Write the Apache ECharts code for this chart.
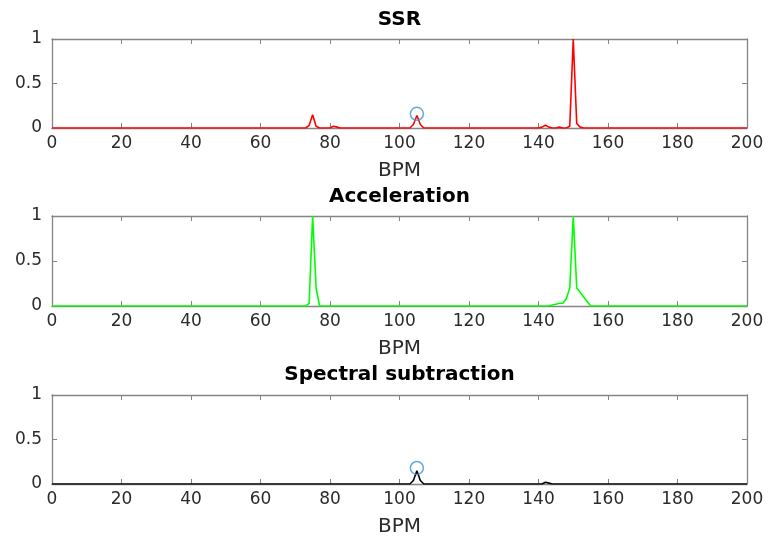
<!DOCTYPE html>
<html>
<head>
<meta charset="utf-8">
<script src="https://cdn.jsdelivr.net/npm/echarts@6/dist/echarts.min.js"></script>
<style>
  html, body { margin: 0; padding: 0; background: #fff; }
  #chart { width: 769px; height: 542px; }
</style>
</head>
<body>
<div id="chart"></div>
<script>
// BPM / value pairs, zero everywhere else
const ssrPoints = [
  [0, 0], [73, 0], [74, 0.03], [75, 0.15], [76, 0.02], [77, 0],
  [80, 0], [81, 0.02], [82, 0.01], [83, 0],
  [103, 0], [104, 0.04], [105, 0.14], [106, 0.04], [107, 0],
  [140, 0], [141, 0.01], [142, 0.03], [143, 0.01], [144, 0],
  [145, 0], [146, 0.01], [147, 0],
  [148, 0], [149, 0.02], [150, 1.0], [151, 0.05], [152, 0.01], [153, 0],
  [200, 0]
];
const accPoints = [
  [0, 0], [73, 0], [74, 0.03], [75, 1.0], [76, 0.2], [77, 0],
  [143, 0], [144, 0.01], [145, 0.02], [146, 0.03], [147, 0.03], [148, 0.08],
  [149, 0.2], [150, 1.0], [151, 0.2], [152, 0.15], [153, 0.1], [154, 0.05], [155, 0],
  [200, 0]
];
const specPoints = [
  [0, 0], [103, 0], [104, 0.04], [105, 0.15], [106, 0.04], [107, 0],
  [141, 0], [142, 0.02], [143, 0.01], [144, 0],
  [200, 0]
];
const ssrPick = [[105, 0.16]];
const specPick = [[105, 0.18]];
const titles = ['SSR', 'Acceleration', 'Spectral subtraction'];

const axisGray = '#858585';
const textColor = '#2b2b2b';
const font = 'DejaVu Sans';

const grids = [
  { left: 52, top: 39, width: 695, height: 89 },
  { left: 52, top: 216, width: 695, height: 90 },
  { left: 52, top: 395, width: 695, height: 89 }
];

const boxLine = { onZero: false, show: true, lineStyle: { color: axisGray, width: 1.3 } };
const boxTick = { show: true, inside: true, length: 5, lineStyle: { color: axisGray } };

const xAxes = [];
const yAxes = [];
grids.forEach(function (g, i) {
  xAxes.push({
    type: 'value', gridIndex: i, position: 'bottom', min: 0, max: 200, interval: 20,
    name: 'BPM', nameLocation: 'middle', nameGap: 33,
    nameTextStyle: { fontFamily: font, fontSize: 20, color: textColor },
    axisLine: boxLine, axisTick: boxTick,
    axisLabel: { fontFamily: font, fontSize: 17, color: textColor, margin: 7 },
    splitLine: { show: false }
  });
  xAxes.push({
    type: 'value', gridIndex: i, position: 'top', min: 0, max: 200, interval: 20,
    axisLine: boxLine, axisTick: boxTick,
    axisLabel: { show: false },
    splitLine: { show: false }
  });
  yAxes.push({
    type: 'value', gridIndex: i, position: 'left', min: 0, max: 1, interval: 0.5,
    axisLine: boxLine, axisTick: boxTick,
    axisLabel: { fontFamily: font, fontSize: 17, color: textColor, margin: 10 },
    splitLine: { show: false }
  });
  yAxes.push({
    type: 'value', gridIndex: i, position: 'right', min: 0, max: 1, interval: 0.5,
    axisLine: boxLine, axisTick: boxTick,
    axisLabel: { show: false },
    splitLine: { show: false }
  });
});

function lineSeries(idx, data, color) {
  return {
    type: 'line', xAxisIndex: idx * 2, yAxisIndex: idx * 2, data: data,
    showSymbol: false, symbol: 'none', animation: false, z: 3,
    lineStyle: { color: color, width: 1.6 }
  };
}
function pickSeries(idx, data) {
  return {
    type: 'scatter', xAxisIndex: idx * 2, yAxisIndex: idx * 2, data: data,
    symbol: 'circle', symbolSize: 13, animation: false, z: 5,
    itemStyle: { color: 'rgba(0,0,0,0)', borderColor: '#3c93d6', borderWidth: 1.5 }
  };
}

const titleTops = [10, 187, 365];
const option = {
  backgroundColor: '#fff',
  title: titles.map(function (t, i) {
    return {
      text: t, left: 399.5, textAlign: 'center', top: titleTops[i], padding: 0,
      textStyle: { fontFamily: font, fontWeight: 'bold', fontSize: 20, color: '#000' }
    };
  }),
  grid: grids,
  xAxis: xAxes,
  yAxis: yAxes,
  series: [
    lineSeries(0, ssrPoints, '#ff0000'),
    pickSeries(0, ssrPick),
    lineSeries(1, accPoints, '#00ff00'),
    lineSeries(2, specPoints, '#000000'),
    pickSeries(2, specPick)
  ]
};

const chart = echarts.init(document.getElementById('chart'));
chart.setOption(option);
</script>
</body>
</html>
